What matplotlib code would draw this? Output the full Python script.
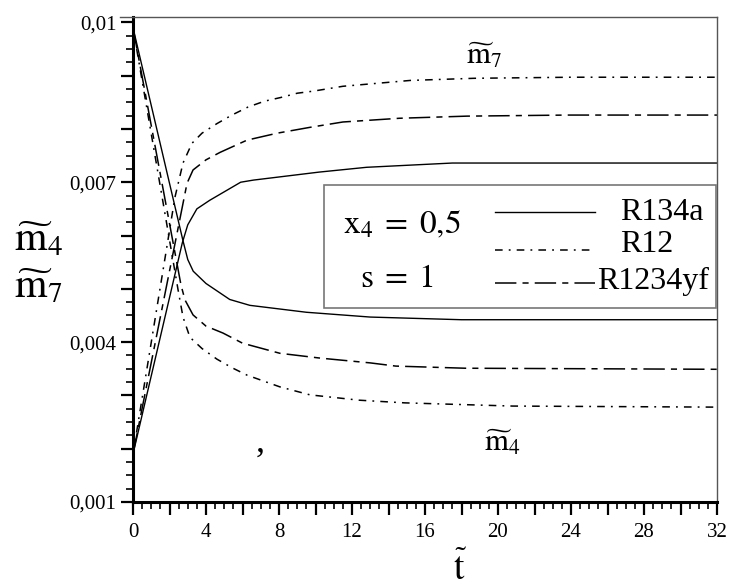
import matplotlib
matplotlib.use("Agg")
import matplotlib.pyplot as plt
from matplotlib.ticker import FixedLocator, FuncFormatter, MultipleLocator
from matplotlib.lines import Line2D
from matplotlib.patches import Rectangle
import numpy as np

plt.rcParams['font.family'] = ['Liberation Serif', 'DejaVu Serif']
plt.rcParams['mathtext.fontset'] = 'stix'

# ---- data ----
t_m4_R134a = [0, 2.74, 3.0, 3.3, 4.0, 5.3, 6.4, 9.5, 13.0, 18.0, 32.0]
m4_R134a = [0.0099, 0.0059, 0.00555, 0.00533, 0.0051, 0.0048, 0.00469, 0.00456, 0.00447, 0.00442, 0.00442]
t_m7_R134a = [0, 2.7, 3.0, 3.5, 4.2, 5.9, 6.6, 10.2, 12.8, 17.5, 32.0]
m7_R134a = [0.0019, 0.00586, 0.0062, 0.0065, 0.00666, 0.0070, 0.00704, 0.00719, 0.00728, 0.00736, 0.00736]

t_m4_R12 = [0, 2.47, 2.74, 3.12, 3.78, 4.6, 5.42, 6.25, 8.05, 9.7, 12.4, 14.9, 20.8, 32.0]
m4_R12 = [0.0099, 0.00498, 0.00447, 0.00409, 0.00388, 0.00368, 0.00352, 0.00338, 0.00316, 0.00301, 0.00291, 0.00286, 0.0028, 0.00278]
t_m7_R12 = [0, 2.3, 2.74, 3.23, 3.78, 4.6, 5.42, 6.3, 7.2, 8.1, 9.0, 9.9, 11.5, 15.2, 18.7, 24.0, 32.0]
m7_R12 = [0.0019, 0.00672, 0.00736, 0.00773, 0.00792, 0.0081, 0.00826, 0.00841, 0.00852, 0.00859, 0.00867, 0.00871, 0.0088, 0.00891, 0.00895, 0.00897, 0.00897]

t_m4_R1234yf = [0, 2.63, 2.85, 3.29, 4.0, 4.93, 6.0, 8.05, 10.25, 13.0, 14.4, 18.2, 32.0]
m4_R1234yf = [0.0099, 0.00507, 0.00479, 0.00451, 0.0043, 0.00417, 0.00398, 0.00379, 0.0037, 0.00361, 0.00355, 0.00351, 0.00349]
t_m7_R1234yf = [0, 2.96, 3.29, 4.0, 4.77, 6.25, 7.9, 9.7, 11.5, 14.6, 18.3, 23.8, 32.0]
m7_R1234yf = [0.0019, 0.00698, 0.00723, 0.00742, 0.00756, 0.00779, 0.00792, 0.00803, 0.00813, 0.0082, 0.00824, 0.00826, 0.00826]

refrigerants = ['R134a', 'R12', 'R1234yf']
x_ticks = [0, 4, 8, 12, 16, 20, 24, 28, 32]
y_ticks = [0.001, 0.004, 0.007, 0.01]

W, H = 729, 588
fig = plt.figure(figsize=(W / 100, H / 100), dpi=100)

def fx(x):
    return x / W

def fy(y):
    return 1 - y / H

ax = fig.add_axes([fx(133), fy(502), fx(717) - fx(133), fy(17) - fy(502)])

styles = {
    'R134a': dict(color='black', lw=1.0, linestyle='-'),
    'R12': dict(color='black', lw=1.1, linestyle=(0, (5, 4, 1.2, 4))),
    'R1234yf': dict(color='black', lw=1.1, linestyle=(0, (14, 4, 4, 4))),
}

series = {
    'R134a': (t_m4_R134a, m4_R134a, t_m7_R134a, m7_R134a),
    'R12': (t_m4_R12, m4_R12, t_m7_R12, m7_R12),
    'R1234yf': (t_m4_R1234yf, m4_R1234yf, t_m7_R1234yf, m7_R1234yf),
}
for name in refrigerants:
    t4, v4, t7, v7 = series[name]
    ax.plot(t4, v4, **styles[name])
    ax.plot(t7, v7, **styles[name])

ax.set_xlim(0, 32)
ax.set_ylim(0.001, 0.0101)

# ticks
ax.xaxis.set_major_locator(MultipleLocator(2))
ax.xaxis.set_minor_locator(MultipleLocator(0.5))
ax.xaxis.set_major_formatter(FuncFormatter(lambda v, p: (f"{int(round(v))}" if round(v) in x_ticks and abs(v - round(v)) < 1e-6 else "")))
ax.yaxis.set_major_locator(FixedLocator([0.001, 0.002, 0.003, 0.004, 0.005, 0.006, 0.007, 0.008, 0.009, 0.01]))
ax.yaxis.set_minor_locator(MultipleLocator(0.00025))

def yfmt(v, p):
    for yt in y_ticks:
        if abs(v - yt) < 1e-9:
            s = f"{yt:.3f}".rstrip('0') if yt < 0.01 else "0.01"
            return s.replace('.', ',')
    return ""
ax.yaxis.set_major_formatter(FuncFormatter(yfmt))

ax.tick_params(axis='both', which='major', direction='out', length=9, width=1.6,
               labelsize=15, top=False, right=False)
ax.tick_params(axis='both', which='minor', direction='out', length=5, width=1.2,
               top=False, right=False)
ax.tick_params(axis='x', which='major', pad=6)
ax.tick_params(axis='y', which='major', pad=3)

for s in ['left', 'bottom']:
    ax.spines[s].set_linewidth(2.2)
for s in ['top', 'right']:
    ax.spines[s].set_linewidth(1.0)
    ax.spines[s].set_color('#555555')

# top line extension on the left
fig.add_artist(Line2D([fx(120), fx(133)], [fy(17), fy(17)], color='#555555', lw=1.0))

# legend box
fig.add_artist(Rectangle((fx(324), fy(308)), fx(716) - fx(324), fy(185) - fy(308),
                         facecolor='white', edgecolor='#777777', lw=1.2, zorder=5))
leg_y = [212, 250, 283]
for name, yy in zip(refrigerants, leg_y):
    st = styles[name]
    fig.add_artist(Line2D([fx(495), fx(595)], [fy(yy), fy(yy)], zorder=6, **st))
fig.text(fx(620), fy(212), 'R134a', fontsize=23, va='center', ha='left', zorder=7)
fig.text(fx(620), fy(244), 'R12', fontsize=23, va='center', ha='left', zorder=7)
fig.text(fx(597), fy(281), 'R1234yf', fontsize=23, va='center', ha='left', zorder=7)
fig.text(fx(343), fy(233), r'$\mathrm{x}_{4}\;=\;0{,}5$', fontsize=24, va='baseline', ha='left', zorder=7)
fig.text(fx(360), fy(287), r'$\mathrm{s}\;=\;1$', fontsize=24, va='baseline', ha='left', zorder=7)

# axis labels
fig.text(fx(14), fy(250), r'$\widetilde{\mathrm{m}}_4$', fontsize=30, va='baseline', ha='left')
fig.text(fx(14), fy(297), r'$\widetilde{\mathrm{m}}_7$', fontsize=30, va='baseline', ha='left')
fig.text(fx(460), fy(580), r'$\widetilde{\mathrm{t}}$', fontsize=27, va='baseline', ha='center')

# annotations
fig.text(fx(466), fy(64), r'$\widetilde{\mathrm{m}}_7$', fontsize=22, va='baseline', ha='left')
fig.text(fx(484), fy(451), r'$\widetilde{\mathrm{m}}_4$', fontsize=22, va='baseline', ha='left')
fig.text(fx(256), fy(452), ',', fontsize=26, va='baseline', ha='left')

fig.savefig('out.png', dpi=100)
